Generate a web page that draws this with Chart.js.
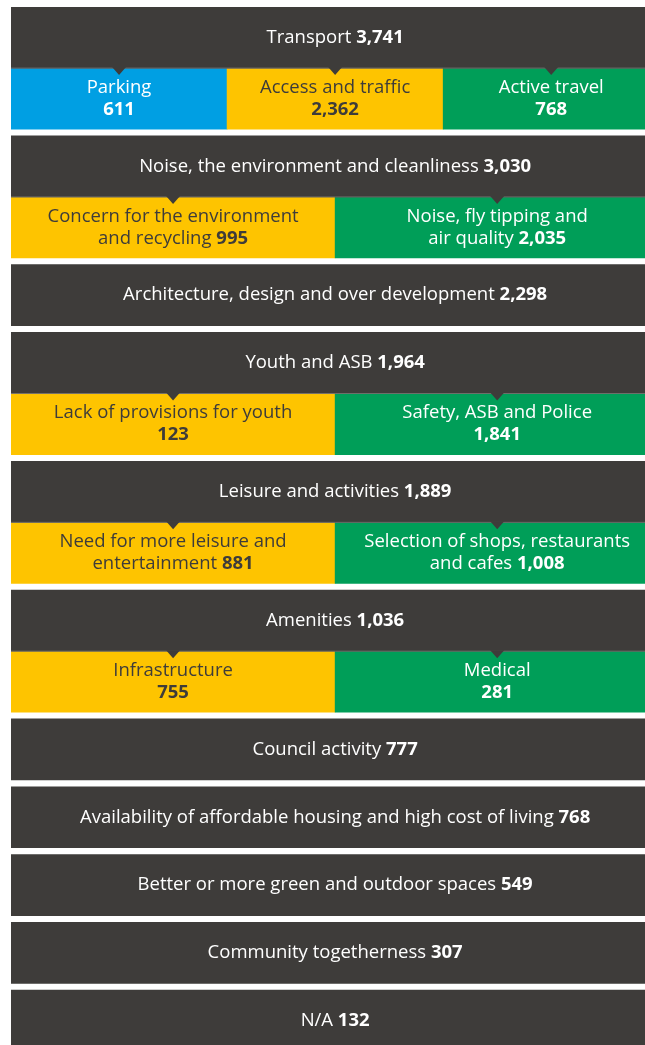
<!DOCTYPE html>
<html>
<head>
<meta charset="utf-8">
<title>Concerns by theme</title>
<script src="https://cdn.jsdelivr.net/npm/chart.js@4.4.1/dist/chart.umd.min.js"></script>
<style>
  html, body { margin: 0; padding: 0; background: #fff; }
  #wrap { position: relative; width: 645px; height: 1045px; }
</style>
</head>
<body>
<div id="wrap"><canvas id="myChart"></canvas></div>
<script>
// Themes (dark rows) and their totals
const themes = [
  'Transport',
  'Noise, the environment and cleanliness',
  'Architecture, design and over development',
  'Youth and ASB',
  'Leisure and activities',
  'Amenities',
  'Council activity',
  'Availability of affordable housing and high cost of living',
  'Better or more green and outdoor spaces',
  'Community togetherness',
  'N/A'
];
const themeTotals = [3741, 3030, 2298, 1964, 1889, 1036, 777, 768, 549, 307, 132];

// Sub-themes per theme ('\n' breaks the line, the number goes after the last line)
const subThemes = [
  ['Parking\n', 'Access and traffic\n', 'Active travel\n'],
  ['Concern for the environment\nand recycling', 'Noise, fly tipping and\nair quality'],
  [],
  ['Lack of provisions for youth\n', 'Safety, ASB and Police\n'],
  ['Need for more leisure and\nentertainment', 'Selection of shops, restaurants\nand cafes'],
  ['Infrastructure\n', 'Medical\n'],
  [], [], [], [], []
];
const subTotals = [[611, 2362, 768], [995, 2035], [], [123, 1841], [881, 1008], [755, 281], [], [], [], [], []];

// Styles
const DARK = '#3e3c3a';
const BLUE = '#009fe3';
const YELLOW = '#fec400';
const GREEN = '#009e58';
const TEXT_DARK = '#3e3c3a';
const REG = '18.5px "Open Sans"';
const BOLD = 'bold 18.5px "Open Sans"';
const LINE_H = 22;
const GAP = 0.11; // white space between groups, in row units

// build the rows: header bar spans the width, sub bars split it evenly
const headerData = [];
const subData = [];
const subColors = [];
let pos = 0;
themes.forEach((name, g) => {
  headerData.push({ x: [0, 1], y: pos + 0.5, label: name, value: themeTotals[g] });
  pos += 1;
  const n = subThemes[g].length;
  if (n) {
    const colors = n === 3 ? [BLUE, YELLOW, GREEN] : [YELLOW, GREEN];
    subThemes[g].forEach((s, i) => {
      subData.push({ x: [i / n, (i + 1) / n], y: pos + 0.5, label: s, value: subTotals[g][i] });
      subColors.push(colors[i]);
    });
    pos += 1;
  }
  pos += GAP;
});

const fmt = v => v.toLocaleString('en-GB');

function drawLabel(ctx, text, value, cx, cy, color) {
  const lines = text.split('\n');
  let y = cy - (lines.length - 1) * LINE_H / 2;
  ctx.fillStyle = color;
  ctx.textBaseline = 'middle';
  ctx.textAlign = 'left';
  lines.forEach((line, i) => {
    const last = i === lines.length - 1;
    const head = last && line ? line + ' ' : line;
    const num = last ? fmt(value) : '';
    ctx.font = REG;
    const w1 = ctx.measureText(head).width;
    ctx.font = BOLD;
    const w2 = ctx.measureText(num).width;
    const x = cx - (w1 + w2) / 2;
    ctx.font = REG;
    ctx.fillText(head, x, y);
    ctx.font = BOLD;
    ctx.fillText(num, x + w1, y);
    y += LINE_H;
  });
}

// notches + labels
const labelPlugin = {
  id: 'boxLabels',
  afterDatasetsDraw(chart) {
    const ctx = chart.ctx;
    ctx.save();
    chart.getDatasetMeta(1).data.forEach(el => {
      const cx = (el.x + el.base) / 2;
      const top = el.y - el.height / 2;
      // thin lighter line under the dark row
      ctx.fillStyle = 'rgba(120,118,116,0.8)';
      ctx.fillRect(Math.min(el.x, el.base), top - 0.5, Math.abs(el.x - el.base), 1);
      ctx.fillStyle = DARK;
      ctx.beginPath();
      ctx.moveTo(cx - 7, top - 1);
      ctx.lineTo(cx + 7, top - 1);
      ctx.lineTo(cx, top + 7);
      ctx.closePath();
      ctx.fill();
    });
    chart.data.datasets.forEach((ds, d) => {
      chart.getDatasetMeta(d).data.forEach((el, i) => {
        const item = ds.data[i];
        const color = d === 1 && subColors[i] === YELLOW ? TEXT_DARK : '#fff';
        drawLabel(ctx, item.label, item.value, (el.x + el.base) / 2, el.y, color);
      });
    });
    ctx.restore();
  }
};

const ctx = document.getElementById('myChart').getContext('2d');
const myChart = new Chart(ctx, {
  type: 'bar',
  data: {
    datasets: [
      { data: headerData, backgroundColor: DARK, grouped: false, barPercentage: 1, categoryPercentage: 1, borderWidth: 0 },
      { data: subData, backgroundColor: subColors, grouped: false, barPercentage: 1, categoryPercentage: 1, borderWidth: 0 }
    ]
  },
  options: {
    indexAxis: 'y',
    responsive: true,
    maintainAspectRatio: false,
    animation: false,
    layout: { padding: { left: 11, top: 7, right: 0, bottom: 0 } },
    scales: {
      // the boxes run a little past the right edge of the picture
      x: { type: 'linear', min: 0, max: 0.978, display: false },
      y: { type: 'linear', reverse: true, min: 0, max: 17, offset: false, grid: { offset: false }, display: false, ticks: { count: 2 } }
    },
    plugins: {
      legend: { display: false },
      tooltip: { enabled: false }
    }
  },
  plugins: [labelPlugin]
});
</script>
</body>
</html>
